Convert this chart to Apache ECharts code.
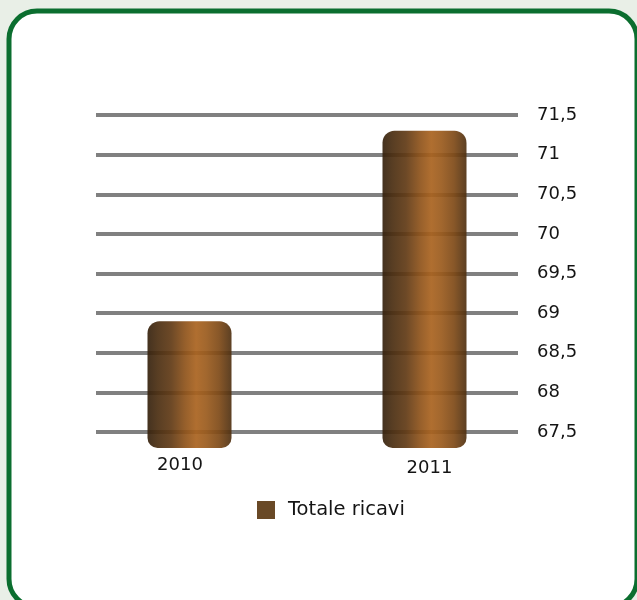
<!DOCTYPE html>
<html>
<head>
<meta charset="utf-8">
<script src="https://cdn.jsdelivr.net/npm/echarts@6/dist/echarts.min.js"></script>
<style>
  html, body { margin: 0; padding: 0; background: #e9efe7; }
  #chart { width: 637px; height: 600px; }
</style>
</head>
<body>
<div id="chart"></div>
<script>
// Revenue totals per year (millions)
const years = ['2010', '2011'];
const totaleRicavi = [68.9, 71.3];
const seriesName = 'Totale ricavi';

// Right-hand scale
const scaleMin = 67.5;
const scaleMax = 71.5;
const scaleStep = 0.5;
// Bars start a little below the lowest gridline
const barBase = 67.3;

const FONT = '"DejaVu Sans", sans-serif';
const INK = '#141414';

const chart = echarts.init(document.getElementById('chart'), null, { renderer: 'canvas' });

// Horizontal shading that gives the bars a cylindrical look
const cylinderFill = new echarts.graphic.LinearGradient(0, 0, 1, 0, [
  { offset: 0.00, color: '#34200c' },
  { offset: 0.12, color: '#4a2d10' },
  { offset: 0.28, color: '#603914' },
  { offset: 0.45, color: '#8e5219' },
  { offset: 0.58, color: '#a9621e' },
  { offset: 0.70, color: '#9a5a1c' },
  { offset: 0.85, color: '#7e4916' },
  { offset: 1.00, color: '#4e2f10' }
]);

chart.setOption({
  backgroundColor: 'transparent',
  animation: false,
  graphic: [{
    type: 'rect',
    z: -10,
    shape: { x: 9, y: 11, width: 628, height: 596, r: 28 },
    style: { fill: '#ffffff', stroke: '#0b6e2f', lineWidth: 5 }
  }],
  legend: {
    left: 252,
    top: 495,
    icon: 'rect',
    itemWidth: 18,
    itemHeight: 18,
    textStyle: { fontFamily: FONT, fontSize: 19.5, color: INK, padding: [0, 0, 0, 8] },
    data: [{ name: seriesName, itemStyle: { color: '#5c3a14' } }]
  },
  grid: [
    { left: 96, right: 119, top: 115, bottom: 168 },
    { left: 72, right: 95, top: 115, bottom: 152 }
  ],
  xAxis: [
    { gridIndex: 0, type: 'category', data: years, show: false },
    {
      gridIndex: 1, type: 'category', data: years,
      axisLine: { show: false }, axisTick: { show: false },
      axisLabel: {
        margin: 8,
        fontFamily: FONT, fontSize: 18, color: INK,
        formatter: (v, i) => i === 0 ? '{a|' + v + '}' : '{b|' + v + '}',
        rich: {
          a: { fontFamily: FONT, fontSize: 18, color: INK, padding: [0, 19, 0, 0] },
          b: { fontFamily: FONT, fontSize: 18, color: INK, padding: [3, 0, 0, 10] }
        }
      }
    }
  ],
  yAxis: [
    {
      gridIndex: 0, type: 'value', position: 'right',
      min: scaleMin, max: scaleMax, interval: scaleStep,
      axisLine: { show: false }, axisTick: { show: false },
      axisLabel: {
        margin: 19,
        fontFamily: FONT, fontSize: 18, color: INK,
        formatter: v => String(v).replace('.', ',')
      },
      splitLine: { lineStyle: { color: '#808080', width: 4 } }
    },
    {
      gridIndex: 1, type: 'value',
      min: barBase, max: scaleMax,
      show: false, splitLine: { show: false }
    }
  ],
  series: [{
    name: seriesName,
    type: 'bar',
    xAxisIndex: 1,
    yAxisIndex: 1,
    barWidth: 84,
    data: totaleRicavi,
    itemStyle: {
      color: cylinderFill,
      opacity: 0.92,
      borderRadius: [12, 12, 10, 10]
    }
  }]
});
</script>
</body>
</html>
